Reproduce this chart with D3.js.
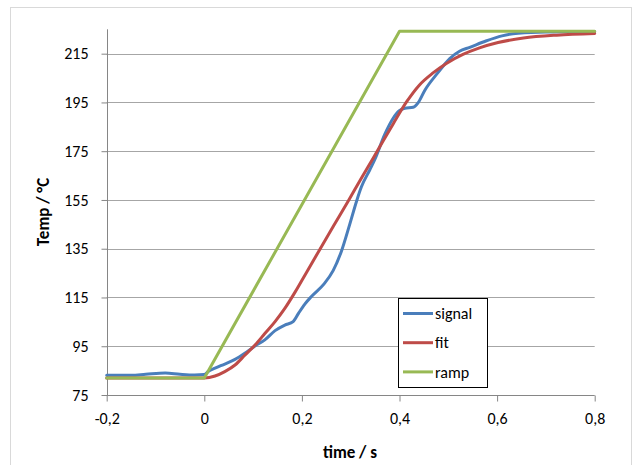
<!DOCTYPE html>
<html><head><meta charset="utf-8">
<script src="https://cdn.jsdelivr.net/npm/d3@7"></script>
<style>body{margin:0;background:#fff}svg{display:block}text{font-family:Carlito,Lato,"Open Sans",sans-serif}</style>
</head><body>
<script>
const xTicks = [-0.2, 0, 0.2, 0.4, 0.6, 0.8];
const xTickLabels = ["-0,2", "0", "0,2", "0,4", "0,6", "0,8"];
const yTicks = [75, 95, 115, 135, 155, 175, 195, 215];
const seriesNames = ["signal", "fit", "ramp"];

const signalT = [-0.2,-0.15,-0.12,-0.08,-0.05,-0.02,0,0.008,0.022,0.042,0.063,0.083,0.104,0.124,0.145,0.165,0.182,0.193,0.206,0.22,0.245,0.264,0.281,0.298,0.312,0.322,0.339,0.349,0.37,0.387,0.399,0.411,0.428,0.438,0.452,0.478,0.503,0.523,0.544,0.577,0.61,0.643,0.7,0.8];
const signalV = [83.1,83.1,83.5,84,83.5,83.2,83.4,84.6,86,87.7,89.6,92.1,95.1,97.6,101.4,103.7,105.1,108.5,112.3,115.5,120.5,126,134,145,154.5,160.4,167.3,171.4,182,188.5,191.5,192.6,193,194.8,200,207,213,216,217.6,220.2,222.3,223.4,223.9,224];

const fitT = [-0.2,0,0.022,0.042,0.063,0.083,0.104,0.124,0.145,0.165,0.186,0.21,0.237,0.265,0.295,0.32,0.346,0.367,0.387,0.414,0.441,0.468,0.496,0.53,0.564,0.602,0.654,0.722,0.8];
const fitV = [82,82,82.8,84.6,87.3,91.3,95.5,100.2,105.1,110.5,117.2,125.5,134.8,144.4,154.6,163.3,172.1,179.4,186.2,195.1,202.2,207,211,214.7,217.4,219.6,221.4,222.6,223.3];

const rampT = [-0.2, 0, 0.4, 0.8];
const rampV = [82, 82, 224.2, 224.2];

const colors = {signal:"#4a7ebb", fit:"#be4b48", ramp:"#98b954"};

const W = 634, H = 465;
const svg = d3.select("body").append("svg").attr("width", W).attr("height", H);
svg.append("rect").attr("x",10.5).attr("y",7.5).attr("width",621).attr("height",480)
  .attr("fill","#fff").attr("stroke","#d9d9d9");

const x = d3.scaleLinear().domain([-0.2, 0.8]).range([106.7, 594.7]);
const y = d3.scaleLinear().domain([75, 225]).range([395, 29.3]);

// gridlines
svg.append("g").selectAll("line").data(yTicks.slice(1)).join("line")
  .attr("x1", x(-0.2)).attr("x2", x(0.8))
  .attr("y1", d=>Math.round(y(d))+0.5).attr("y2", d=>Math.round(y(d))+0.5)
  .attr("stroke","#a6a6a6").attr("stroke-width",1);

// y axis
const yAxis = svg.append("g").attr("transform",`translate(${Math.round(x(-0.2))+0.5},0)`)
  .call(d3.axisLeft(y).tickValues(yTicks).tickSize(6).tickPadding(13).tickFormat(d3.format("d")));
yAxis.select(".domain").attr("stroke","#868686").attr("d",`M0,${y(225)}V${y(75)}`);
yAxis.selectAll(".tick line").attr("stroke","#868686");
yAxis.selectAll(".tick text").attr("font-size",16).attr("fill","#000");

// x axis
const xAxis = svg.append("g").attr("transform",`translate(0,${Math.round(y(75))+0.5})`)
  .call(d3.axisBottom(x).tickValues(xTicks).tickSize(6).tickPadding(11).tickFormat((d,i)=>xTickLabels[i]));
xAxis.select(".domain").attr("stroke","#868686").attr("d",`M${x(-0.2)},0H${x(0.8)}`);
xAxis.selectAll(".tick line").attr("stroke","#868686");
xAxis.selectAll(".tick text").attr("font-size",16).attr("fill","#000");

// series
const series = [
  {name:"signal", t:signalT, v:signalV},
  {name:"fit", t:fitT, v:fitV},
  {name:"ramp", t:rampT, v:rampV}
];
series.forEach(s=>{
  const pts = s.t.map((t,i)=>[t, s.v[i]]);
  const line = d3.line().x(d=>x(d[0])).y(d=>y(d[1]))
    .curve(s.name==="ramp" ? d3.curveLinear : d3.curveMonotoneX);
  svg.append("path").datum(pts).attr("d", line).attr("fill","none")
    .attr("stroke", colors[s.name]).attr("stroke-width",3).attr("stroke-linejoin","round").attr("stroke-linecap","round");
});

// axis titles
svg.append("text").attr("x",350).attr("y",458).attr("text-anchor","middle")
  .attr("font-size",17).attr("font-weight","bold").text("time / s");
svg.append("text").attr("transform","translate(49,212) rotate(-90)").attr("text-anchor","middle")
  .attr("font-size",17).attr("font-weight","bold").text("Temp / °C");

// legend
const lg = svg.append("g");
lg.append("rect").attr("x",398.5).attr("y",298.5).attr("width",89).attr("height",89)
  .attr("fill","#fff").attr("stroke","#000");
seriesNames.forEach((n,i)=>{
  const yy = 313.5 + i*29.2;
  lg.append("line").attr("x1",403).attr("x2",433).attr("y1",yy).attr("y2",yy)
    .attr("stroke",colors[n]).attr("stroke-width",3);
  lg.append("text").attr("x",435).attr("y",yy).attr("dy","0.35em").attr("font-size",16).text(n);
});
</script>
</body></html>
